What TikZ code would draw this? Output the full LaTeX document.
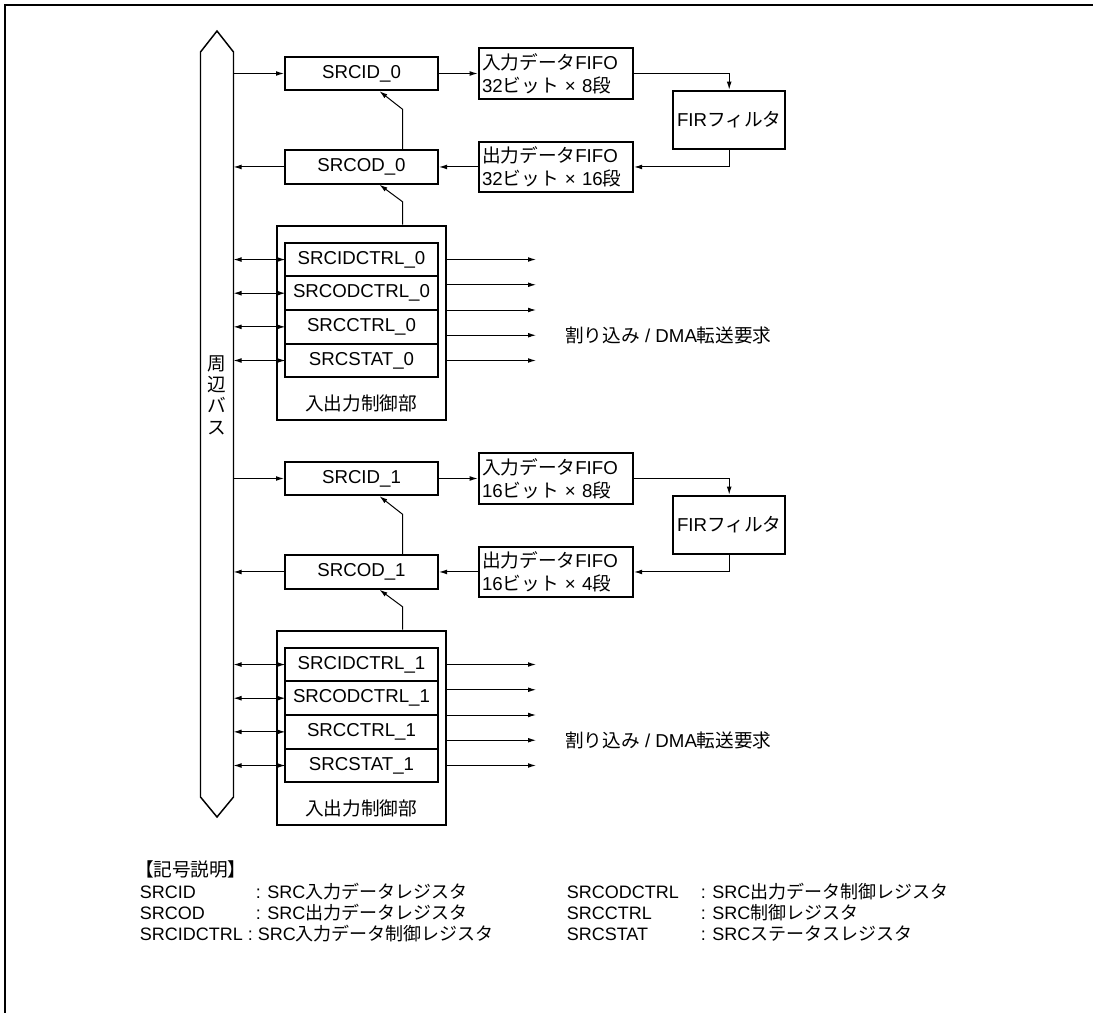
\documentclass[tikz,border=0pt]{standalone}
\usepackage{fontspec}
\setmainfont{Liberation Sans}
\newfontfamily\jpfont{Noto Sans CJK JP}
\newfontfamily\jppfont[RawFeature=+palt]{Noto Sans CJK JP}
\usepackage{tikz}
\usetikzlibrary{positioning}
\usetikzlibrary{calc}
\usetikzlibrary{arrows.meta}
\tikzset{
data_reg/.style={rectangle, draw, line width=1.5pt, minimum width=114.75pt, minimum height=25.1pt, font=\fontsize{14}{16}\selectfont},
fifo_box/.style={rectangle, draw, line width=1.5pt, text width=110.8pt, inner xsep=2.5pt, minimum height=38pt, align=left, font=\fontsize{14}{17}\selectfont},
fir_box/.style={rectangle, draw, line width=1.5pt, minimum width=83.8pt, minimum height=44pt, inner sep=1pt, font=\fontsize{14}{16}\selectfont},
io_block/.style={rectangle, draw, line width=1.5pt, minimum width=127pt, minimum height=145.7pt},
reg_item/.style={rectangle, draw, line width=1.5pt, outer sep=0pt, minimum width=114.2pt, minimum height=25.24pt, inner sep=1pt, font=\fontsize{14}{16}\selectfont},
label_text/.style={inner sep=0pt, font=\fontsize{14}{16}\selectfont},
legend_text/.style={anchor=base west, inner sep=0pt, font=\fontsize{13.5}{16}\selectfont},
signal/.style={line width=0.75pt},
bus_line/.style={line width=1.1pt}
}
\begin{document}
\begin{tikzpicture}[x=0.75pt, y=-0.75pt, >={Latex[length=6pt,width=3.6pt]}]
    \useasboundingbox (0,0) rectangle (1093,1013);
    \draw[line width=1.5pt] (5,1013) -- (5,5) -- (1093,5);
    % peripheral bus
    \draw[bus_line] (200.5,52) -- (217,31) -- (233.5,52) -- (233.5,797) -- (217,817) -- (200.5,797) -- cycle;
    \coordinate (bus_right) at (233.5,0);
    \node[label_text, align=center, font=\jpfont\fontsize{14}{16}\selectfont] (bus_label) at (217,395) {周\\辺\\バ\\ス};
    % two SRC channels
    \foreach \s/\dy/\inw/\ind/\outw/\outd in {0/0/32/8/32/16, 1/405/16/8/16/4}{
        \node[data_reg] (srcid_\s) at (361.5,73.5+\dy) {SRCID\_\s};
        \node[fifo_box, right=29pt of srcid_\s] (fifo_in_\s) {{\jpfont 入力データ}FIFO\\\inw{\jpfont ビット} × \ind{\jpfont 段}};
        \node[fir_box] (fir_\s) at (729.2,120+\dy) {FIR{\jpfont フィルタ}};
        \node[data_reg, below=43.5pt of srcid_\s] (srcod_\s) {SRCOD\_\s};
        \node[fifo_box, right=29pt of srcod_\s] (fifo_out_\s) {{\jpfont 出力データ}FIFO\\\outw{\jpfont ビット} × \outd{\jpfont 段}};
        \node[io_block, below=30pt of srcod_\s] (ioctl_\s) {};
        \node[reg_item] (idctrl_\s) at (361.5,259.55+\dy) {SRCIDCTRL\_\s};
        \node[reg_item, below=0 of idctrl_\s] (odctrl_\s) {SRCODCTRL\_\s};
        \node[reg_item, below=0 of odctrl_\s] (cctrl_\s) {SRCCTRL\_\s};
        \node[reg_item, below=0 of cctrl_\s] (stat_\s) {SRCSTAT\_\s};
        \node[label_text, font=\jpfont\fontsize{14}{16}\selectfont] (io_label_\s) at (361,403+\dy) {入出力制御部};
        \draw[signal, ->] (bus_right |- srcid_\s) -- (srcid_\s.west);
        \draw[signal, ->] (srcid_\s.east) -- (fifo_in_\s.west);
        \draw[signal, ->] (fifo_in_\s.east) -| (fir_\s.north);
        \draw[signal, ->] (fir_\s.south) |- (fifo_out_\s.east);
        \draw[signal, ->] (fifo_out_\s.west) -- (srcod_\s.east);
        \draw[signal, ->] (srcod_\s.west) -- (bus_right |- srcod_\s);
        \draw[signal, ->] ($(srcod_\s.north)+(41,0)$) -- ++(0,-40) -- ($(srcid_\s.south)+(18,0)$);
        \draw[signal, ->] ($(ioctl_\s.north)+(41,0)$) -- ++(0,-23) -- ($(srcod_\s.south)+(18,0)$);
        \foreach \r in {idctrl,odctrl,cctrl,stat}
            \draw[signal, <->] (bus_right |- \r_\s) -- (\r_\s.west);
        \foreach \k in {0,...,4}{
            \coordinate (req_\s_\k) at (536,259.5+\dy+25.25*\k);
            \draw[signal, ->] (ioctl_\s.east |- req_\s_\k) -- (req_\s_\k);
        }
        \node[label_text, anchor=west] (irq_\s) at (565,335+\dy) {{\jpfont 割り込み} / DMA{\jpfont 転送要求}};
    }
    % legend
    \node[legend_text, font=\jppfont\fontsize{14}{16}\selectfont] (key_title) at (144,876) {【記号説明】};
    \node[legend_text] (key_srcid) at (139.5,898) {SRCID};
    \node[legend_text] (desc_srcid) at (255.5,898) {: SRC{\jpfont 入力データレジスタ}};
    \node[legend_text] (key_srcod) at (139.5,919) {SRCOD};
    \node[legend_text] (desc_srcod) at (255.5,919) {: SRC{\jpfont 出力データレジスタ}};
    \node[legend_text] (key_srcidctrl) at (139.5,940) {SRCIDCTRL : SRC{\jpfont 入力データ制御レジスタ}};
    \node[legend_text] (key_srcodctrl) at (566.5,898) {SRCODCTRL};
    \node[legend_text] (desc_srcodctrl) at (700.5,898) {: SRC{\jpfont 出力データ制御レジスタ}};
    \node[legend_text] (key_srcctrl) at (566.5,919) {SRCCTRL};
    \node[legend_text] (desc_srcctrl) at (700.5,919) {: SRC{\jpfont 制御レジスタ}};
    \node[legend_text] (key_srcstat) at (566.5,940) {SRCSTAT};
    \node[legend_text] (desc_srcstat) at (700.5,940) {: SRC{\jpfont ステータスレジスタ}};
\end{tikzpicture}
\end{document}
